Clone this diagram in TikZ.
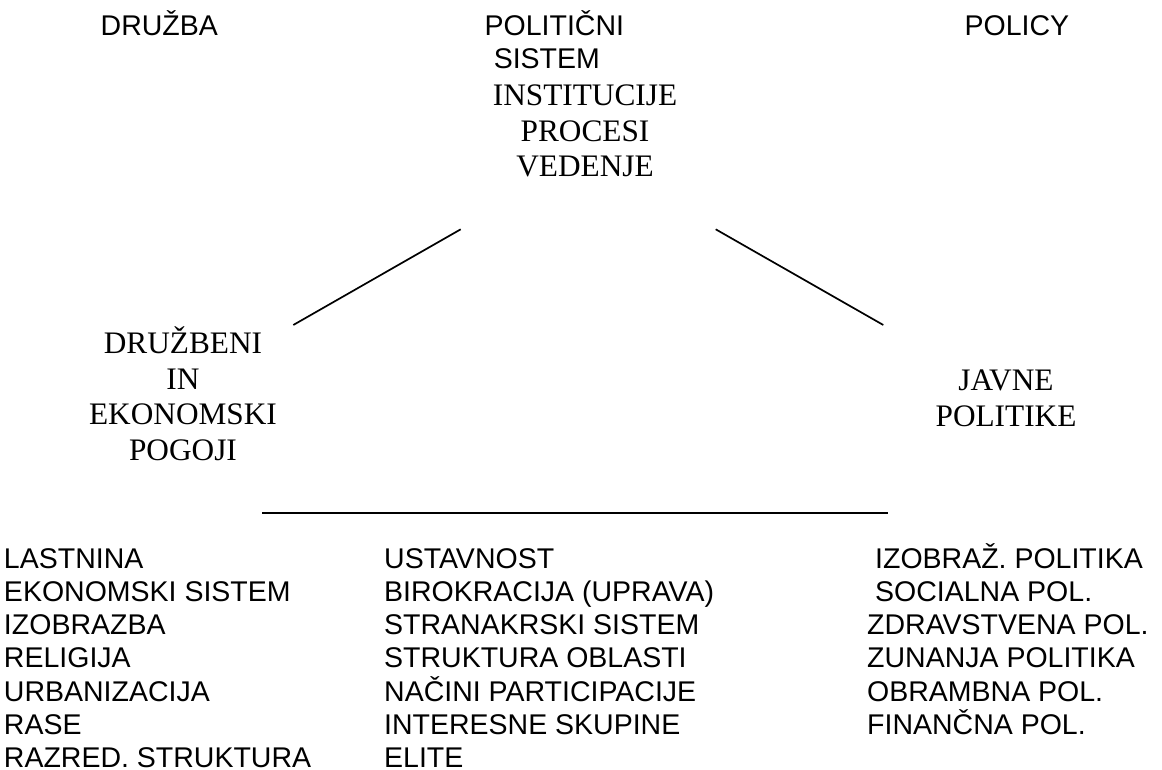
\documentclass[tikz,border=0pt]{standalone}
\usepackage{fontspec}
\usepackage{tikz}
\newfontfamily\arialfont{Liberation Sans}
\newfontfamily\timesfont{Liberation Serif}
\tikzstyle{sans_label}=[inner sep=0pt, anchor=base west, font=\arialfont\fontsize{28.5}{33.3}\selectfont]
% base of a multi-line node is its last line
\tikzstyle{serif_label}=[inner sep=0pt, anchor=base, align=center, font=\timesfont\fontsize{31.3}{35.5}\selectfont]
\tikzstyle{edge_line}=[line width=1.7pt]

\begin{document}
\begin{tikzpicture}[x=1pt, y=-1pt]
\useasboundingbox (0,0) rectangle (1162,769);
\node[sans_label] (druzba) at (100.5,35){DRUŽBA};
\node[sans_label] (polsis1) at (484.5,35){POLITIČNI};
\node[sans_label] (polsis2) at (493.6,68.3){SISTEM};
\node[sans_label] (policy) at (964.5,35){POLICY};
\node[serif_label] (inst) at (585,176.7){INSTITUCIJE\\PROCESI\\VEDENJE};
\node[serif_label] (pogoji) at (183,460){DRUŽBENI\\IN\\EKONOMSKI\\POGOJI};
\node[serif_label] (javne) at (1006,426){JAVNE\\POLITIKE};
\coordinate (tl) at (460.7,229.3);
\coordinate (bl) at (293.3,325);
\coordinate (tr) at (715.7,229.3);
\coordinate (br) at (883.3,325);
\coordinate (hl) at (262,513);
\coordinate (hr) at (888,513);
\draw[edge_line](tl) -- (bl);
\draw[edge_line](tr) -- (br);
\draw[line width=2.5pt](hl) -- (hr);
\node[sans_label] (soc1) at (3.8,568){LASTNINA};
\node[sans_label] (soc2) at (3.8,601.3){EKONOMSKI SISTEM};
\node[sans_label] (soc3) at (3.8,634.6){IZOBRAZBA};
\node[sans_label] (soc4) at (3.8,667.9){RELIGIJA};
\node[sans_label] (soc5) at (3.8,701.2){URBANIZACIJA};
\node[sans_label] (soc6) at (3.8,734.5){RASE};
\node[sans_label] (soc7) at (3.8,767.8){RAZRED. STRUKTURA};
\node[sans_label] (sys1) at (384,568){USTAVNOST};
\node[sans_label] (sys2) at (384,601.3){BIROKRACIJA (UPRAVA)};
\node[sans_label] (sys3) at (384,634.6){STRANAKRSKI SISTEM};
\node[sans_label] (sys4) at (384,667.9){STRUKTURA OBLASTI};
\node[sans_label] (sys5) at (384,701.2){NAČINI PARTICIPACIJE};
\node[sans_label] (sys6) at (384,734.5){INTERESNE SKUPINE};
\node[sans_label] (sys7) at (384,767.8){ELITE};
\node[sans_label] (pol1) at (875,568){IZOBRAŽ. POLITIKA};
\node[sans_label] (pol2) at (875,601.3){SOCIALNA POL.};
\node[sans_label] (pol3) at (867,634.6){ZDRAVSTVENA POL.};
\node[sans_label] (pol4) at (867,667.9){ZUNANJA POLITIKA};
\node[sans_label] (pol5) at (867,701.2){OBRAMBNA POL.};
\node[sans_label] (pol6) at (867,734.5){FINANČNA POL.};
\end{tikzpicture}
\end{document}
